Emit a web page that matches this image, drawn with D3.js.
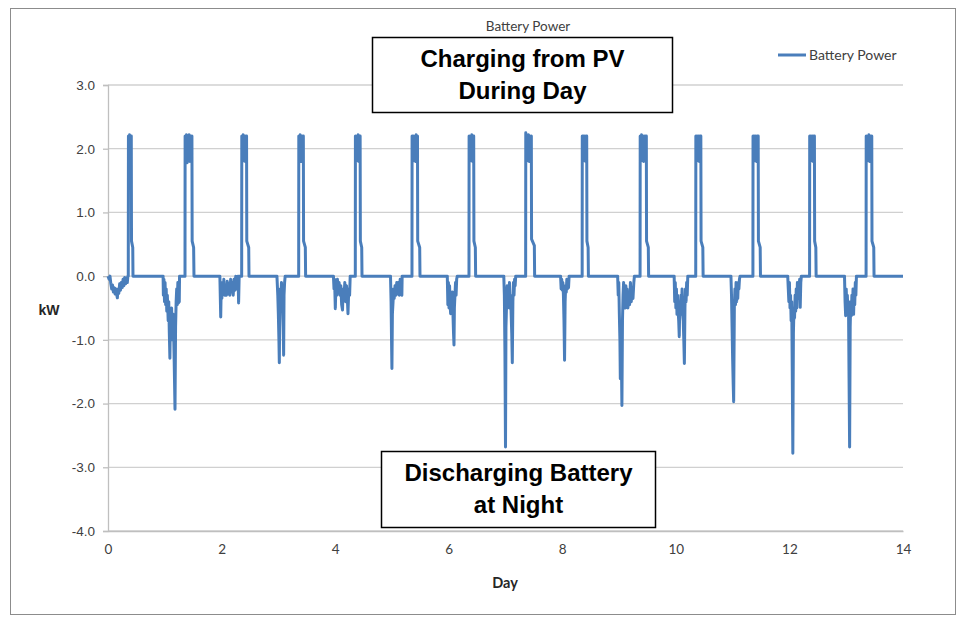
<!DOCTYPE html>
<html>
<head>
<meta charset="utf-8">
<script src="https://cdn.jsdelivr.net/npm/d3@7"></script>
<style>
  html, body { margin: 0; padding: 0; background: #ffffff; }
  svg { display: block; }
</style>
</head>
<body>
<svg id="chart" width="958" height="621"></svg>
<script>
// ---------------- DATA ----------------
const chartTitle = "Battery Power";
const seriesName = "Battery Power";
const yTicks = [-4, -3, -2, -1, 0, 1, 2, 3];
const xTicks = [0, 2, 4, 6, 8, 10, 12, 14];
const xLabel = "Day";
const yLabel = "kW";
const noteTop = ["Charging from PV", "During Day"];
const noteBottom = ["Discharging Battery", "at Night"];

// night-time discharge (day, kW)
const dischargeKW = [
  [0,0],[0.02,-0.05],[0.035,0],[0.05,-0.12],[0.065,-0.2],[0.08,-0.14],[0.095,-0.25],[0.11,-0.18],[0.125,-0.28],[0.14,-0.2],[0.155,-0.3],[0.165,-0.34],[0.175,-0.2],[0.19,-0.27],[0.205,-0.12],[0.22,-0.22],[0.235,-0.1],[0.25,-0.18],[0.265,-0.05],[0.28,-0.15],[0.295,-0.02],[0.31,-0.12],[0.325,-0.03],[0.34,-0.1],[0.35,0],
  [0.97,0],[0.975,-0.3],[0.985,-0.05],[0.995,-0.4],[1.005,-0.1],[1.015,-0.45],[1.025,-0.2],[1.035,-0.55],[1.045,-0.3],[1.06,-0.7],[1.07,-0.4],[1.08,-0.9],[1.09,-1.29],[1.1,-0.6],[1.11,-0.9],[1.12,-0.5],[1.135,-1.0],[1.15,-0.6],[1.165,-1.3],[1.18,-2.09],[1.19,-0.8],[1.2,-0.4],[1.21,-0.2],[1.22,-0.45],[1.23,-0.1],[1.24,-0.42],[1.255,-0.4],[1.26,0],
  [1.97,0],[1.985,-0.64],[1.995,-0.1],[2.005,-0.35],[2.015,-0.1],[2.03,-0.28],[2.04,-0.05],[2.055,-0.3],[2.07,-0.15],[2.085,-0.3],[2.1,-0.08],[2.115,-0.28],[2.13,-0.12],[2.145,-0.3],[2.16,-0.05],[2.175,-0.25],[2.19,-0.1],[2.205,-0.3],[2.22,-0.05],[2.235,-0.22],[2.25,0],[2.265,-0.2],[2.28,-0.05],[2.29,0],[2.3,-0.42],[2.31,0],
  [2.975,0],[2.99,-0.3],[3.0,-0.6],[3.01,-1.0],[3.017,-1.36],[3.025,-0.5],[3.035,-0.2],[3.045,-0.35],[3.055,-0.1],[3.065,-0.3],[3.075,-0.5],[3.085,-0.8],[3.093,-1.24],[3.1,-0.3],[3.11,-0.1],[3.12,0],
  [3.97,0],[3.98,-0.2],[3.99,-0.05],[4.003,-0.51],[4.015,-0.1],[4.03,-0.3],[4.04,-0.05],[4.055,-0.25],[4.07,-0.1],[4.085,-0.3],[4.1,-0.15],[4.115,-0.45],[4.13,-0.53],[4.14,-0.2],[4.155,-0.35],[4.17,-0.1],[4.185,-0.4],[4.2,-0.15],[4.215,-0.35],[4.226,-0.59],[4.24,-0.2],[4.255,-0.3],[4.265,0],
  [4.975,0],[4.985,-0.4],[4.993,-1.0],[5.0,-1.45],[5.008,-0.6],[5.02,-0.4],[5.03,-0.2],[5.04,-0.35],[5.055,-0.15],[5.07,-0.3],[5.085,-0.1],[5.1,-0.28],[5.115,-0.1],[5.13,-0.3],[5.145,-0.05],[5.16,-0.27],[5.175,-0.3],[5.18,0],
  [5.975,0],[5.985,-0.45],[5.995,-0.1],[6.005,-0.5],[6.015,-0.15],[6.025,-0.45],[6.034,-0.59],[6.045,-0.3],[6.055,-0.55],[6.065,-0.25],[6.075,-0.6],[6.085,-0.9],[6.093,-1.08],[6.1,-0.5],[6.11,-0.3],[6.12,-0.1],[6.13,-0.3],[6.14,-0.05],[6.15,0],
  [6.97,0],[6.98,-0.3],[6.99,-1.2],[7.0,-2.68],[7.008,-0.8],[7.02,-0.4],[7.03,-0.15],[7.04,-0.5],[7.05,-0.2],[7.06,-0.45],[7.07,-0.1],[7.08,-0.5],[7.09,-0.3],[7.1,-0.6],[7.11,-0.9],[7.12,-1.36],[7.13,-0.4],[7.14,-0.1],[7.15,-0.3],[7.16,-0.05],[7.17,-0.15],[7.18,0],
  [7.97,0],[7.98,-0.2],[7.99,-0.05],[8.0,-0.22],[8.01,-0.1],[8.02,-0.3],[8.03,-0.7],[8.04,-1.32],[8.05,-0.4],[8.06,-0.15],[8.07,-0.25],[8.08,-0.05],[8.09,-0.2],[8.1,-0.1],[8.11,-0.18],[8.12,0],
  [8.975,0],[8.985,-0.3],[8.995,-0.1],[9.005,-0.6],[9.015,-1.0],[9.022,-1.61],[9.03,-0.8],[9.04,-1.2],[9.05,-2.03],[9.06,-0.7],[9.07,-0.3],[9.08,-0.1],[9.09,-0.4],[9.1,-0.2],[9.11,-0.5],[9.12,-0.15],[9.13,-0.45],[9.14,-0.2],[9.155,-0.5],[9.17,-0.25],[9.185,-0.45],[9.2,-0.1],[9.215,-0.4],[9.23,-0.2],[9.245,-0.35],[9.26,-0.1],[9.27,0],
  [9.97,0],[9.98,-0.4],[9.99,-0.1],[10.0,-0.5],[10.01,-0.2],[10.02,-0.6],[10.03,-0.3],[10.04,-0.55],[10.05,-0.7],[10.06,-0.95],[10.07,-0.4],[10.08,-0.6],[10.09,-0.3],[10.1,-0.5],[10.11,-0.2],[10.12,-0.6],[10.13,-0.7],[10.14,-1.0],[10.15,-1.37],[10.16,-0.5],[10.17,-0.2],[10.18,-0.4],[10.19,-0.1],[10.2,-0.3],[10.21,0],
  [10.97,0],[10.98,-0.3],[10.99,-0.8],[11.0,-1.3],[11.01,-1.7],[11.018,-1.97],[11.03,-0.5],[11.04,-0.2],[11.05,-0.45],[11.06,-0.1],[11.07,-0.4],[11.08,-0.15],[11.09,-0.35],[11.1,-0.1],[11.11,-0.2],[11.12,-0.05],[11.13,0],
  [11.97,0],[11.98,-0.2],[11.99,-0.4],[12.0,-0.1],[12.01,-0.5],[12.02,-0.3],[12.03,-0.7],[12.04,-0.4],[12.05,-1.5],[12.06,-2.78],[12.07,-0.9],[12.08,-0.5],[12.09,-0.66],[12.1,-0.3],[12.11,-0.55],[12.12,-0.2],[12.13,-0.5],[12.14,-0.1],[12.15,-0.35],[12.16,-0.1],[12.17,-0.2],[12.18,-0.05],[12.19,-0.49],[12.2,-0.1],[12.21,0],
  [12.97,0],[12.98,-0.4],[12.99,-0.62],[13.0,-0.2],[13.01,-0.5],[13.02,-0.3],[13.03,-0.6],[13.04,-0.4],[13.05,-1.6],[13.06,-2.68],[13.07,-0.8],[13.08,-0.4],[13.09,-0.62],[13.1,-0.3],[13.11,-0.55],[13.12,-0.2],[13.13,-0.6],[13.14,-0.25],[13.15,-0.45],[13.16,-0.1],[13.17,-0.3],[13.18,0],
  [14,0]
];

// day-time charging from PV (day, kW)
const chargeKW = [
  [0.357,0],[0.36,2.2],[0.37,1.85],[0.38,2.22],[0.39,1.9],[0.4,2.2],[0.41,2.2],[0.414,0.55],[0.436,0.45],[0.44,0],
  [1.356,0],[1.358,2.2],[1.37,1.8],[1.382,2.22],[1.394,1.78],[1.406,2.2],[1.418,1.85],[1.43,2.22],[1.442,1.8],[1.454,2.2],[1.466,1.82],[1.478,2.2],[1.482,0.55],[1.508,0.45],[1.514,0],
  [2.354,0],[2.356,2.2],[2.368,1.8],[2.38,2.22],[2.392,1.85],[2.404,2.2],[2.416,1.8],[2.428,2.2],[2.44,2.2],[2.444,0.55],[2.478,0.45],[2.483,0],
  [3.358,0],[3.36,2.2],[3.372,1.85],[3.384,2.22],[3.396,1.8],[3.408,2.2],[3.42,1.85],[3.432,2.2],[3.44,2.2],[3.444,0.55],[3.475,0.45],[3.48,0],
  [4.355,0],[4.357,2.2],[4.369,1.8],[4.381,2.2],[4.393,1.85],[4.405,2.22],[4.417,1.8],[4.429,2.2],[4.44,2.2],[4.444,0.55],[4.468,0.45],[4.473,0],
  [5.353,0],[5.355,2.2],[5.367,1.8],[5.379,2.2],[5.391,1.85],[5.403,2.2],[5.415,1.8],[5.427,2.22],[5.439,1.85],[5.45,2.2],[5.454,0.55],[5.489,0.45],[5.494,0],
  [6.357,0],[6.359,2.2],[6.371,1.8],[6.383,2.2],[6.395,1.85],[6.407,2.22],[6.419,1.8],[6.431,2.2],[6.44,2.2],[6.444,0.55],[6.469,0.45],[6.474,0],
  [7.355,0],[7.357,2.25],[7.369,1.8],[7.381,2.2],[7.393,1.85],[7.405,2.22],[7.417,1.8],[7.429,2.2],[7.441,1.85],[7.455,2.2],[7.459,0.58],[7.508,0.48],[7.513,0],
  [8.35,0],[8.352,2.2],[8.364,1.8],[8.376,2.2],[8.388,1.85],[8.4,2.2],[8.412,1.8],[8.424,2.2],[8.43,2.2],[8.434,0.55],[8.455,0.45],[8.46,0],
  [9.37,0],[9.372,2.2],[9.384,1.8],[9.396,2.22],[9.408,1.85],[9.42,2.2],[9.432,1.8],[9.444,2.2],[9.456,1.85],[9.468,2.2],[9.48,2.2],[9.484,0.55],[9.515,0.45],[9.52,0],
  [10.35,0],[10.352,2.2],[10.364,1.8],[10.376,2.2],[10.388,1.85],[10.4,2.2],[10.412,1.8],[10.424,2.2],[10.44,2.2],[10.444,0.55],[10.475,0.45],[10.48,0],
  [11.357,0],[11.359,2.2],[11.371,1.8],[11.383,2.2],[11.395,1.85],[11.407,2.2],[11.419,1.8],[11.431,2.2],[11.45,2.2],[11.454,0.55],[11.485,0.45],[11.49,0],
  [12.355,0],[12.357,2.2],[12.369,1.8],[12.381,2.2],[12.393,1.85],[12.405,2.2],[12.417,1.8],[12.429,2.2],[12.44,2.2],[12.444,0.55],[12.465,0.45],[12.47,0],
  [13.35,0],[13.352,2.2],[13.364,1.8],[13.376,2.2],[13.388,1.85],[13.4,2.22],[13.412,1.8],[13.424,2.2],[13.436,1.85],[13.45,2.2],[13.454,0.55],[13.485,0.45],[13.49,0]
];

// ---------------- CHART ----------------
const series = dischargeKW.concat(chargeKW).sort((a, b) => a[0] - b[0]);

const svg = d3.select("#chart");
const plot = { left: 108, right: 903, top: 85, bottom: 531 };

const x = d3.scaleLinear().domain([0, 14]).range([plot.left, plot.right]);
const y = d3.scaleLinear().domain([-4, 3]).range([plot.bottom, plot.top]);

const humanist = "Lato, 'Open Sans', 'Liberation Sans', sans-serif";
const sans = "'Liberation Sans', Arial, sans-serif";

// outer border
svg.append("rect")
  .attr("x", 10.5).attr("y", 8.5)
  .attr("width", 945).attr("height", 606)
  .attr("fill", "#ffffff")
  .attr("stroke", "#8c8c8c").attr("stroke-width", 1);

// gridlines
svg.append("g").selectAll("line")
  .data(yTicks)
  .join("line")
  .attr("x1", plot.left).attr("x2", plot.right)
  .attr("y1", d => y(d)).attr("y2", d => y(d))
  .attr("stroke", "#d0d0d0").attr("stroke-width", 1.3);

// y axis
const yAxis = d3.axisLeft(y).tickValues(yTicks).tickSize(5).tickPadding(8)
  .tickFormat(d => d.toFixed(1));
const gy = svg.append("g").attr("transform", `translate(${plot.left},0)`).call(yAxis);
gy.select(".domain").attr("stroke", "#bfbfbf").attr("stroke-width", 1.3);
gy.selectAll(".tick line").attr("stroke", "#bfbfbf").attr("stroke-width", 1.3);
gy.selectAll(".tick text").attr("fill", "#404040")
  .style("font-family", sans).style("font-size", "13.5px");

// x axis
const xAxis = d3.axisBottom(x).tickValues(xTicks).tickSize(0).tickPadding(13)
  .tickFormat(d => String(d));
const gx = svg.append("g").attr("transform", `translate(0,${plot.bottom})`).call(xAxis);
gx.select(".domain").attr("stroke", "#bfbfbf").attr("stroke-width", 1.3);
gx.selectAll(".tick text").attr("fill", "#404040")
  .style("font-family", humanist).style("font-size", "13.5px");

// line
const line = d3.line().x(d => x(d[0])).y(d => y(d[1]));
svg.append("path")
  .datum(series)
  .attr("d", line)
  .attr("fill", "none")
  .attr("stroke", "#4a7ebb")
  .attr("stroke-width", 3)
  .attr("stroke-linejoin", "round");

// title
svg.append("text")
  .attr("x", 528).attr("y", 31)
  .attr("text-anchor", "middle")
  .attr("fill", "#404040")
  .style("font-family", humanist).style("font-size", "13.5px")
  .text(chartTitle);

// axis titles
svg.append("text")
  .attr("x", 49).attr("y", 315)
  .attr("text-anchor", "middle")
  .attr("fill", "#262626")
  .style("font-family", sans).style("font-size", "14px").style("font-weight", "bold")
  .text(yLabel);

svg.append("text")
  .attr("x", 505).attr("y", 588)
  .attr("text-anchor", "middle")
  .attr("fill", "#262626")
  .style("font-family", humanist).style("font-size", "14.5px").style("font-weight", "bold")
  .text(xLabel);

// legend
const lg = svg.append("g");
lg.append("line")
  .attr("x1", 778).attr("x2", 806).attr("y1", 55).attr("y2", 55)
  .attr("stroke", "#4a7ebb").attr("stroke-width", 3);
lg.append("text")
  .attr("x", 809).attr("y", 59.5)
  .attr("fill", "#404040")
  .style("font-family", humanist).style("font-size", "14px")
  .text(seriesName);

// annotation boxes
function note(lines, bx, by, bw, bh) {
  const g = svg.append("g");
  g.append("rect")
    .attr("x", bx).attr("y", by).attr("width", bw).attr("height", bh)
    .attr("fill", "#ffffff").attr("stroke", "#000000").attr("stroke-width", 1.5);
  g.selectAll("text").data(lines).join("text")
    .attr("x", bx + bw / 2)
    .attr("y", (d, i) => by + 29 + i * 32)
    .attr("text-anchor", "middle")
    .attr("fill", "#000000")
    .style("font-family", sans).style("font-size", "24px").style("font-weight", "bold")
    .text(d => d);
}
note(noteTop, 372.5, 37.5, 300, 75);
note(noteBottom, 381.5, 451.5, 274, 76);
</script>
</body>
</html>
